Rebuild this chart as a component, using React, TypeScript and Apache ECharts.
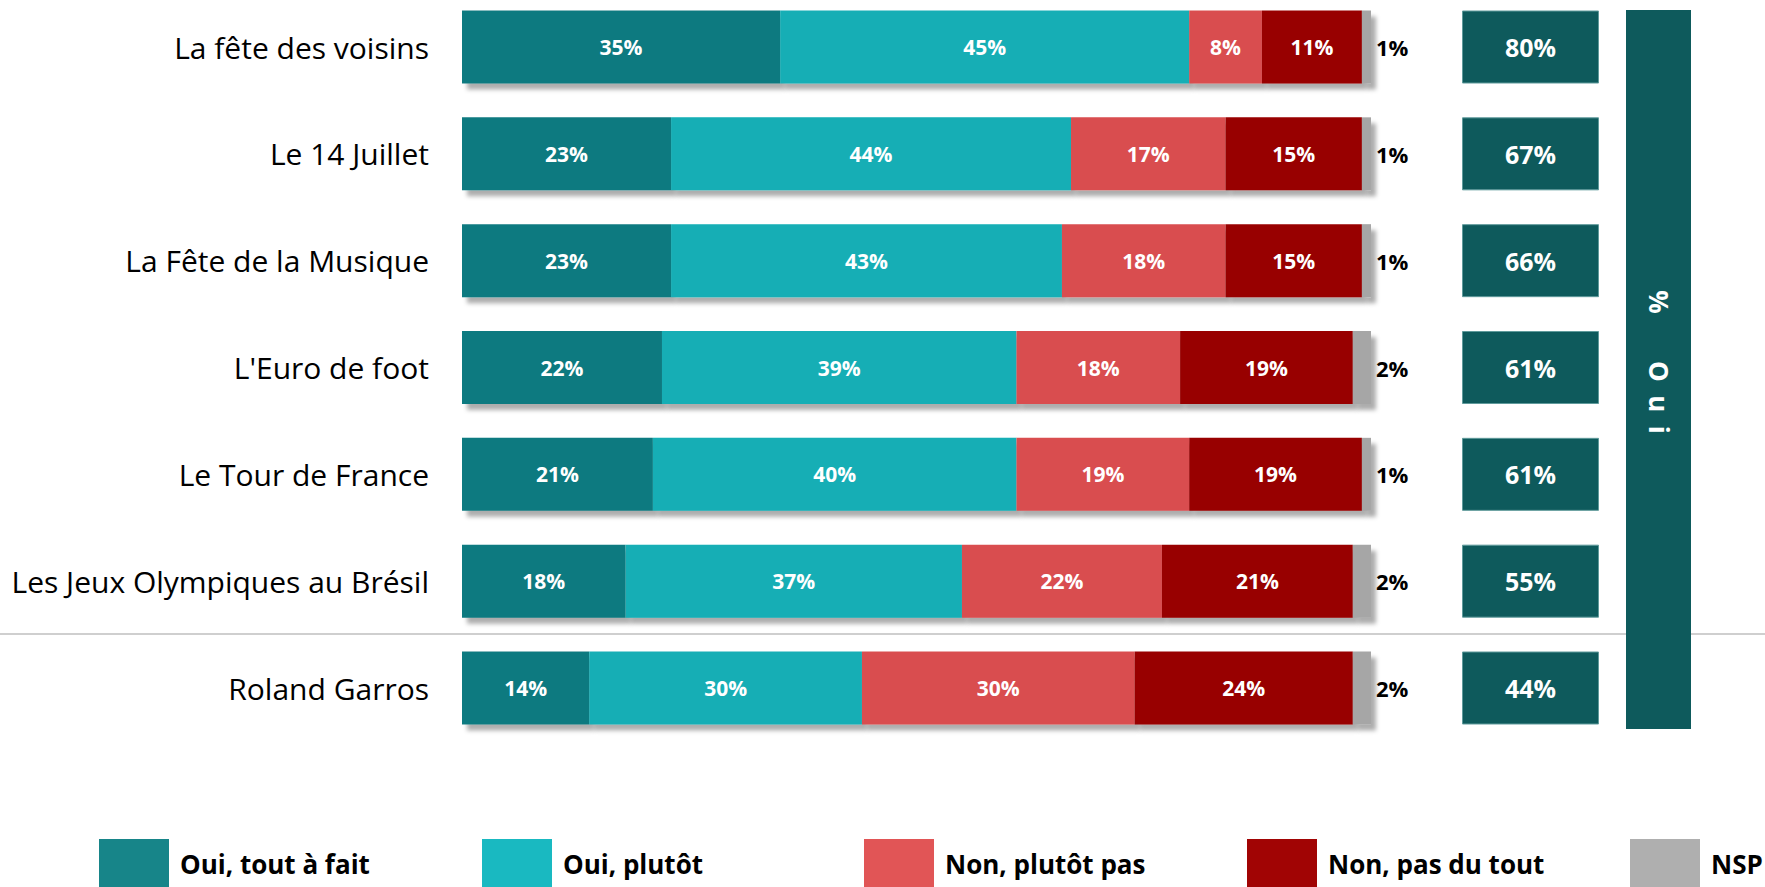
import React, { useEffect, useRef } from "react";
import * as echarts from "echarts";

const categories = [
  "La fête des voisins",
  "Le 14 Juillet",
  "La Fête de la Musique",
  "L'Euro de foot",
  "Le Tour de France",
  "Les Jeux Olympiques au Brésil",
  "Roland Garros",
];
const seriesNames = ["Oui, tout à fait", "Oui, plutôt", "Non, plutôt pas", "Non, pas du tout", "NSP"];
const toutAFait = [35, 23, 23, 22, 21, 18, 14];
const plutot = [45, 44, 43, 39, 40, 37, 30];
const plutotPas = [8, 17, 18, 18, 19, 22, 30];
const pasDuTout = [11, 15, 15, 19, 19, 21, 24];
const nsp = [1, 1, 1, 2, 1, 2, 2];
const ouiTotal = [80, 67, 66, 61, 61, 55, 44];
const sideTitle = "%       O  u  i";

const colors = ["#107A80", "#14AEB5", "#D94E50", "#980000", "#A6A6A6"];
const legendColors = ["#178589", "#19B9C1", "#E15556", "#A10404", "#AFAFAF"];
const FONT = "Open Sans";

export default function App() {
  const ref = useRef<HTMLDivElement>(null);
  useEffect(() => {
    if (!ref.current) return;
    const chart = echarts.init(ref.current, undefined, { renderer: "svg" });
    const values = [toutAFait, plutot, plutotPas, pasDuTout, nsp];
    const gridTop = 47;
    const gridHeight = 641;
    const barSeries: any[] = values.map((arr, i) => ({
      name: seriesNames[i],
      type: "bar",
      stack: "total",
      xAxisIndex: 0,
      yAxisIndex: 0,
      barWidth: 73,
      data: arr,
      itemStyle: {
        color: colors[i],
        shadowColor: "rgba(0,0,0,0.32)",
        shadowBlur: 4,
        shadowOffsetX: 5,
        shadowOffsetY: 6,
      },
      label:
        i < 4
          ? {
              show: true,
              position: "inside",
              formatter: "{c}%",
              color: "#ffffff",
              fontFamily: FONT,
              fontWeight: "bold",
              fontSize: 21,
            }
          : {
              show: true,
              position: "right",
              distance: 5,
              formatter: "{c}%",
              color: "#000000",
              fontFamily: FONT,
              fontWeight: "bold",
              fontSize: 22,
            },
    }));
    barSeries.push({
      name: "ouiTotal",
      type: "bar",
      xAxisIndex: 1,
      yAxisIndex: 1,
      barWidth: 73,
      data: ouiTotal.map(() => 1),
      itemStyle: { color: "#0E5A5C", borderColor: "#5F9A9B", borderWidth: 1 },
      label: {
        show: true,
        position: "inside",
        formatter: (p: any) => `${ouiTotal[p.dataIndex]}%`,
        color: "#ffffff",
        fontFamily: FONT,
        fontWeight: "bold",
        fontSize: 25,
      },
      silent: true,
    });
    const legendLefts = [99, 482, 864, 1247, 1630];
    chart.setOption({
      animation: false,
      textStyle: { fontFamily: FONT },
      grid: [
        { left: 462, width: 909, top: gridTop, height: gridHeight },
        { left: 1462, width: 137, top: gridTop, height: gridHeight },
      ],
      xAxis: [
        { type: "value", min: 0, max: 100, show: false, gridIndex: 0 },
        { type: "value", min: 0, max: 1, show: false, gridIndex: 1 },
      ],
      yAxis: [
        {
          type: "category",
          data: categories,
          inverse: true,
          boundaryGap: false,
          gridIndex: 0,
          axisLine: { show: false },
          axisTick: { show: false },
          splitLine: { show: false },
          axisLabel: { color: "#000000", fontSize: 30, fontFamily: FONT, margin: 33 },
        },
        {
          type: "category",
          data: categories,
          inverse: true,
          boundaryGap: false,
          gridIndex: 1,
          show: false,
        },
      ],
      legend: seriesNames.map((n, i) => ({
        data: [{ name: n, itemStyle: { color: legendColors[i] } }],
        left: legendLefts[i],
        top: 839,
        padding: 0,
        itemWidth: 70,
        itemHeight: 50,
        icon: "rect",
        selectedMode: false,
        textStyle: {
          fontFamily: FONT,
          fontWeight: "bold",
          fontSize: 26,
          color: "#000000",
          padding: [0, 0, 0, 6],
        },
      })),
      graphic: [
        {
          type: "line",
          z: 0,
          shape: { x1: 0, y1: 634, x2: 1765, y2: 634 },
          style: { stroke: "#BFBFBF", lineWidth: 1.5 },
        },
        {
          type: "rect",
          z: 5,
          shape: { x: 1626, y: 10, width: 65, height: 719 },
          style: { fill: "#0E5A5C" },
        },
        {
          type: "text",
          z: 6,
          x: 1659,
          y: 362,
          rotation: -Math.PI / 2,
          style: {
            text: sideTitle,
            fill: "#ffffff",
            fontFamily: FONT,
            fontWeight: "bold",
            fontSize: 26,
            align: "center",
            verticalAlign: "middle",
          },
        },
      ],
      series: barSeries,
    });
    return () => chart.dispose();
  }, []);
  return (
    <div
      ref={ref}
      style={{ position: "fixed", left: 0, top: 0, width: 1765, height: 887, background: "#ffffff" }}
    />
  );
}
